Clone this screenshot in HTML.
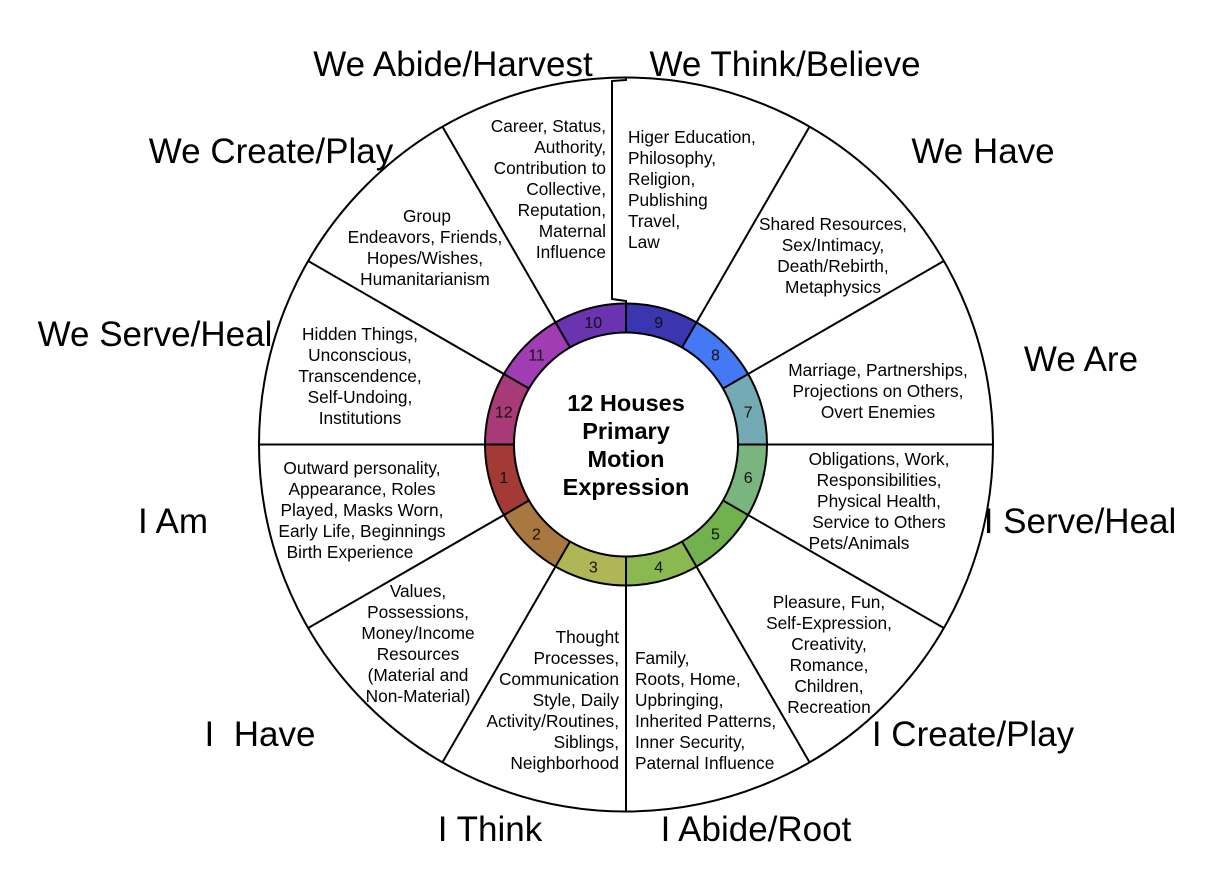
<!DOCTYPE html>
<html><head><meta charset="utf-8"><style>
html,body{margin:0;padding:0;background:#fff;}
svg{display:block;font-family:"Liberation Sans",Arial,sans-serif;}
.big{font-size:35px;fill:#000;}
.t{font-size:17.3px;fill:#000;}
.n{font-size:16px;fill:#111;}
</style></head><body>
<svg width="1215" height="888" viewBox="0 0 1215 888">
<circle cx="626" cy="444.5" r="367" fill="#fff" stroke="#000" stroke-width="2"/>
<g fill="none" stroke-width="29">
<path d="M499.5,444.5 A126.5,126.5 0 0 1 516.45,381.25" stroke="#a83a78"/>
<path d="M516.45,381.25 A126.5,126.5 0 0 1 562.75,334.95" stroke="#a23cb5"/>
<path d="M562.75,334.95 A126.5,126.5 0 0 1 626,318" stroke="#6a34b0"/>
<path d="M626,318 A126.5,126.5 0 0 1 689.25,334.95" stroke="#3a36b0"/>
<path d="M689.25,334.95 A126.5,126.5 0 0 1 735.55,381.25" stroke="#4479f5"/>
<path d="M735.55,381.25 A126.5,126.5 0 0 1 752.5,444.5" stroke="#74aab4"/>
<path d="M752.5,444.5 A126.5,126.5 0 0 1 735.55,507.75" stroke="#7ab47e"/>
<path d="M735.55,507.75 A126.5,126.5 0 0 1 689.25,554.05" stroke="#72b24e"/>
<path d="M689.25,554.05 A126.5,126.5 0 0 1 626,571" stroke="#8cb852"/>
<path d="M626,571 A126.5,126.5 0 0 1 562.75,554.05" stroke="#b0b655"/>
<path d="M562.75,554.05 A126.5,126.5 0 0 1 516.45,507.75" stroke="#a87840"/>
<path d="M516.45,507.75 A126.5,126.5 0 0 1 499.5,444.5" stroke="#a33a35"/>
</g>
<circle cx="626" cy="444.5" r="141" fill="none" stroke="#000" stroke-width="2"/>
<circle cx="626" cy="444.5" r="112" fill="#fff" stroke="#000" stroke-width="2"/>
<g stroke="#000" stroke-width="2" fill="none">
<line x1="738" y1="444.5" x2="993" y2="444.5"/>
<line x1="514" y1="444.5" x2="259" y2="444.5"/>
<line x1="626" y1="556.5" x2="626" y2="811.5"/>
<line x1="723" y1="500.5" x2="943.8" y2="628"/>
<line x1="682" y1="541.5" x2="809.5" y2="762.3"/>
<line x1="570" y1="541.5" x2="442.5" y2="762.3"/>
<line x1="529" y1="500.5" x2="308.2" y2="628"/>
<line x1="529" y1="388.5" x2="308.2" y2="261"/>
<line x1="570" y1="347.5" x2="442.5" y2="126.7"/>
<line x1="682" y1="347.5" x2="809.5" y2="126.7"/>
<line x1="723" y1="388.5" x2="943.8" y2="261"/>
<polyline points="626,78 626,80 612,81 612,299 626,301 626,332"/>
</g>
<g class="n" text-anchor="middle">
<text x="503.8" y="483">1</text><text x="536.5" y="539.5">2</text><text x="593.3" y="572.5">3</text>
<text x="658.7" y="572.5">4</text><text x="715.4" y="539.5">5</text><text x="748.2" y="483">6</text>
<text x="748.2" y="417.5">7</text><text x="715.4" y="360.5">8</text><text x="658.7" y="328">9</text>
<text x="593.3" y="328">10</text><text x="536.5" y="360.5">11</text><text x="503.8" y="417.5">12</text>
</g>
<g text-anchor="middle" font-weight="bold" font-size="23.5">
<text x="626" y="411">12 Houses</text><text x="626" y="439">Primary</text>
<text x="626" y="467">Motion</text><text x="626" y="495">Expression</text>
</g>
<g class="big">
<text x="453" y="76" text-anchor="middle">We Abide/Harvest</text>
<text x="785" y="76" text-anchor="middle">We Think/Believe</text>
<text x="271" y="163" text-anchor="middle">We Create/Play</text>
<text x="983" y="163" text-anchor="middle">We Have</text>
<text x="155" y="346" text-anchor="middle">We Serve/Heal</text>
<text x="1081" y="371" text-anchor="middle">We Are</text>
<text x="173" y="533" text-anchor="middle">I Am</text>
<text x="1080" y="533" text-anchor="middle">I Serve/Heal</text>
<text x="260" y="746" text-anchor="middle" xml:space="preserve">I  Have</text>
<text x="973" y="746" text-anchor="middle">I Create/Play</text>
<text x="490" y="841" text-anchor="middle">I Think</text>
<text x="756" y="841" text-anchor="middle">I Abide/Root</text>
</g>
<g class="t" text-anchor="end">
<text x="606" y="132">Career, Status,</text><text x="606" y="153">Authority,</text><text x="606" y="174">Contribution to</text><text x="606" y="195">Collective,</text><text x="606" y="216">Reputation,</text><text x="606" y="237">Maternal</text><text x="606" y="258">Influence</text>
<text x="619" y="643">Thought</text><text x="619" y="664">Processes,</text><text x="619" y="685">Communication</text><text x="619" y="706">Style, Daily</text><text x="619" y="727">Activity/Routines,</text><text x="619" y="748">Siblings,</text><text x="619" y="769">Neighborhood</text>
</g>
<g class="t">
<text x="628" y="143">Higer Education,</text><text x="628" y="164">Philosophy,</text><text x="628" y="185">Religion,</text><text x="628" y="206">Publishing</text><text x="628" y="227">Travel,</text><text x="628" y="248">Law</text>
<text x="635" y="664">Family,</text><text x="635" y="685">Roots, Home,</text><text x="635" y="706">Upbringing,</text><text x="635" y="727">Inherited Patterns,</text><text x="635" y="748">Inner Security,</text><text x="635" y="769">Paternal Influence</text>
</g>
<g class="t" text-anchor="middle">
<text x="427" y="222">Group</text><text x="425" y="243">Endeavors, Friends,</text><text x="425" y="264">Hopes/Wishes,</text><text x="425" y="285">Humanitarianism</text>
<text x="833" y="230">Shared Resources,</text><text x="833" y="251">Sex/Intimacy,</text><text x="833" y="272">Death/Rebirth,</text><text x="833" y="293">Metaphysics</text>
<text x="360" y="340">Hidden Things,</text><text x="360" y="361">Unconscious,</text><text x="360" y="382">Transcendence,</text><text x="360" y="403">Self-Undoing,</text><text x="360" y="424">Institutions</text>
<text x="878" y="376">Marriage, Partnerships,</text><text x="878" y="397">Projections on Others,</text><text x="878" y="418">Overt Enemies</text>
<text x="362" y="474">Outward personality,</text><text x="362" y="495">Appearance, Roles</text><text x="362" y="516">Played, Masks Worn,</text><text x="362" y="537">Early Life, Beginnings</text><text x="350" y="558">Birth Experience</text>
<text x="879" y="465">Obligations, Work,</text><text x="879" y="486">Responsibilities,</text><text x="879" y="507">Physical Health,</text><text x="879" y="528">Service to Others</text><text x="859" y="549">Pets/Animals</text>
<text x="418" y="597">Values,</text><text x="418" y="618">Possessions,</text><text x="418" y="639">Money/Income</text><text x="418" y="660">Resources</text><text x="418" y="681">(Material and</text><text x="418" y="702">Non-Material)</text>
<text x="829" y="608">Pleasure, Fun,</text><text x="829" y="629">Self-Expression,</text><text x="829" y="650">Creativity,</text><text x="829" y="671">Romance,</text><text x="829" y="692">Children,</text><text x="829" y="713">Recreation</text>
</g>
</svg>
</body></html>
